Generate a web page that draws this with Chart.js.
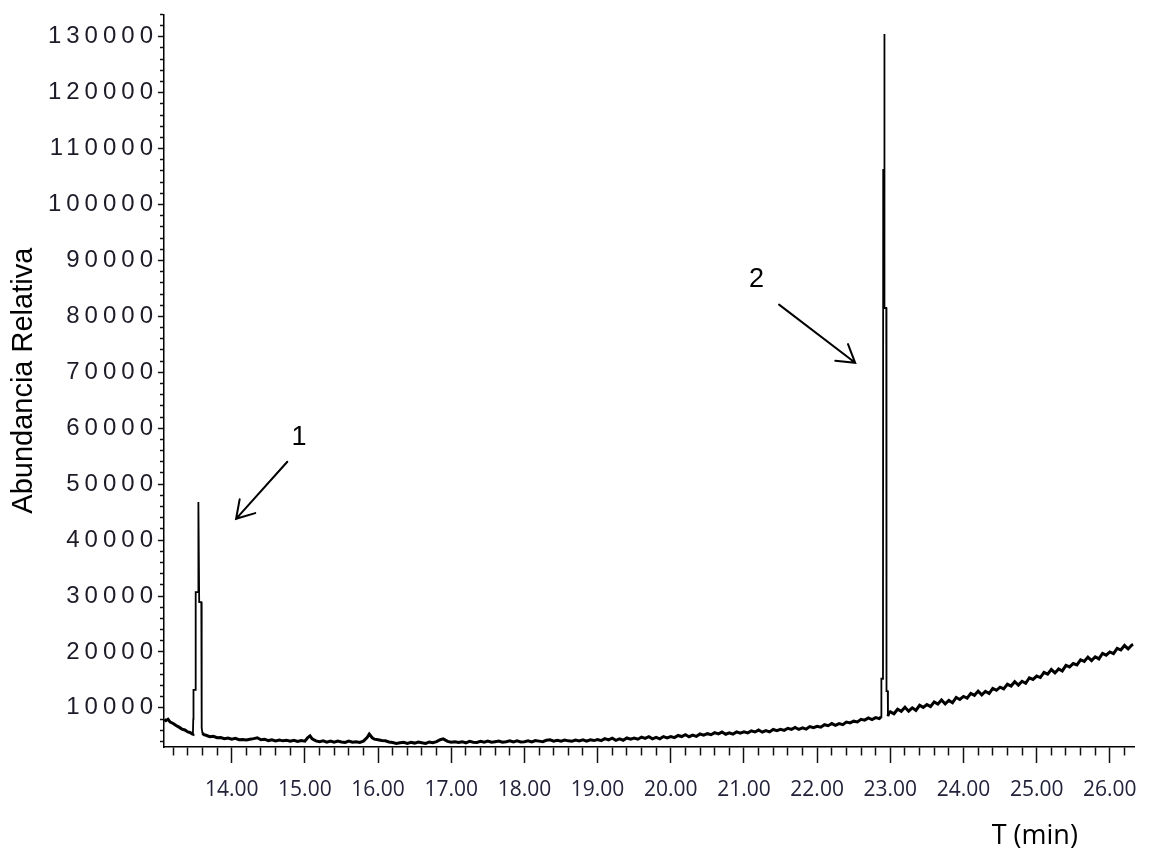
<!DOCTYPE html>
<html>
<head>
<meta charset="utf-8">
<script src="https://cdn.jsdelivr.net/npm/chart.js@4.4.1/dist/chart.umd.min.js"></script>
<style>
  html, body { margin: 0; padding: 0; background: #ffffff; }
  canvas { display: block; }
</style>
</head>
<body>
<canvas id="chart" width="1153" height="857"></canvas>
<script>
// ---- data (retention time in min, relative abundance) ----
const retentionTimes = [
  13.08, 13.10, 13.13, 13.16, 13.20, 13.24, 13.28, 13.32, 13.36, 13.40, 13.43, 13.46,
  13.470, 13.475, 13.478, 13.505, 13.508, 13.540, 13.545, 13.556, 13.585, 13.590,
  13.60, 13.62, 13.65, 13.70, 13.75, 13.80, 13.85, 13.90, 13.95,
  14.00, 14.05, 14.10, 14.15, 14.20, 14.25, 14.30, 14.35, 14.40, 14.45,
  14.50, 14.55, 14.60, 14.65, 14.70, 14.75, 14.80, 14.85, 14.90, 14.95,
  15.00, 15.04, 15.07, 15.10, 15.15, 15.20, 15.25, 15.30, 15.35, 15.40, 15.45,
  15.50, 15.55, 15.60, 15.65, 15.70, 15.75, 15.80, 15.85, 15.88, 15.92, 15.95,
  16.00, 16.05, 16.10, 16.15, 16.20, 16.25, 16.30, 16.35, 16.40, 16.45,
  16.50, 16.55, 16.60, 16.65, 16.70, 16.75, 16.80, 16.85, 16.89, 16.95,
  17.00, 17.05, 17.10, 17.15, 17.20, 17.25, 17.30, 17.35, 17.40, 17.45,
  17.50, 17.55, 17.60, 17.65, 17.70, 17.75, 17.80, 17.85, 17.90, 17.95,
  18.00, 18.05, 18.10, 18.15, 18.20, 18.25, 18.30, 18.35, 18.40, 18.45,
  18.50, 18.55, 18.60, 18.65, 18.70, 18.75, 18.80, 18.85, 18.90, 18.95,
  19.00, 19.05, 19.10, 19.15, 19.20, 19.25, 19.30, 19.35, 19.40, 19.45,
  19.50, 19.55, 19.60, 19.65, 19.70, 19.75, 19.80, 19.85, 19.90, 19.95,
  20.00, 20.05, 20.10, 20.15, 20.20, 20.25, 20.30, 20.35, 20.40, 20.45,
  20.50, 20.55, 20.60, 20.65, 20.70, 20.75, 20.80, 20.85, 20.90, 20.95,
  21.00, 21.05, 21.10, 21.15, 21.20, 21.25, 21.30, 21.35, 21.40, 21.45,
  21.50, 21.55, 21.60, 21.65, 21.70, 21.75, 21.80, 21.85, 21.90, 21.95,
  22.00, 22.05, 22.10, 22.15, 22.20, 22.25, 22.30, 22.35, 22.40, 22.45,
  22.50, 22.55, 22.60, 22.65, 22.70, 22.75, 22.80, 22.85, 22.875,
  22.878, 22.900, 22.903, 22.915, 22.918, 22.922, 22.945, 22.948, 22.965, 22.968, 22.98,
  23.00, 23.05, 23.10, 23.15, 23.20, 23.25, 23.30, 23.35, 23.40, 23.45,
  23.50, 23.55, 23.60, 23.65, 23.70, 23.75, 23.80, 23.85, 23.90, 23.95,
  24.00, 24.05, 24.10, 24.15, 24.20, 24.25, 24.30, 24.35, 24.40, 24.45,
  24.50, 24.55, 24.60, 24.65, 24.70, 24.75, 24.80, 24.85, 24.90, 24.95,
  25.00, 25.05, 25.10, 25.15, 25.20, 25.25, 25.30, 25.35, 25.40, 25.45,
  25.50, 25.55, 25.60, 25.65, 25.70, 25.75, 25.80, 25.85, 25.90, 25.95,
  26.00, 26.05, 26.10, 26.15, 26.20, 26.25, 26.30, 26.32
];
const abundance = [
  7950, 7700, 7950, 7450, 7200, 6850, 6550, 6200, 6050, 5700, 5600, 5350,
  5300, 8000, 13200, 13200, 30700, 30700, 46800, 28900, 28900, 6400,
  5500, 5200, 5100, 4850, 4900, 4650, 4700, 4500, 4600,
  4400, 4550, 4300, 4350, 4250, 4400, 4500, 4650, 4300, 4400,
  4150, 4300, 4100, 4250, 4100, 4200, 4050, 4200, 4000, 4150,
  4050, 4700, 5000, 4450, 4100, 3950, 4100, 3850, 4050, 3850, 4050,
  3900, 3800, 4050, 3850, 3950, 3800, 4050, 4700, 5300, 4650, 4400,
  4300, 4150, 4100, 3900, 3800, 3650, 3750, 3850, 3650, 3850,
  3700, 3900, 3750, 3650, 3900, 3750, 3950, 4300, 4450, 4000,
  3850, 3950, 3800, 3950, 3750, 4000, 3850, 3800, 4000, 3850,
  4050, 3850, 3950, 4050, 3850, 3950, 4100, 3900, 4100, 3900,
  3950, 4100, 3900, 4150, 4050, 3950, 4200, 4300, 4050, 4200,
  4050, 4250, 4100, 4050, 4250, 4100, 4300, 4050, 4300, 4150,
  4350, 4140, 4500, 4280, 4590, 4200, 4460, 4210, 4610, 4380,
  4610, 4390, 4760, 4530, 4850, 4450, 4720, 4460, 4870, 4630,
  4860, 4670, 5060, 4870, 5210, 4840, 5130, 4900, 5330, 5130,
  5380, 5190, 5570, 5350, 5670, 5280, 5550, 5300, 5700, 5470,
  5700, 5510, 5890, 5690, 6030, 5650, 5940, 5700, 6130, 5910,
  6160, 5970, 6350, 6150, 6500, 6140, 6430, 6210, 6650, 6440,
  6700, 6550, 6980, 6810, 7190, 6860, 7190, 6990, 7460, 7310,
  7620, 7490, 7940, 7810, 8210, 7900, 8250, 8080, 8400,
  15200, 15200, 106200, 106200, 130500, 81500, 81500, 13000, 13000, 8500, 9100,
  9290, 8940, 9760, 9390, 10100, 9400, 10010, 9560, 10460, 10080,
  10590, 10240, 11060, 10690, 11400, 10700, 11330, 10910, 11850, 11500,
  12040, 11730, 12580, 12240, 12990, 12320, 12960, 12550, 13490, 13140,
  13690, 13380, 14230, 13900, 14670, 14060, 14750, 14390, 15380, 15090,
  15680, 15420, 16330, 16040, 16850, 16250, 16960, 16600, 17600, 17320,
  17930, 17680, 18600, 18300, 19080, 18450, 19130, 18750, 19720, 19410,
  19990, 19710, 20620, 20340, 21140, 20530, 21230, 21300
];

// axis ticks and labels
const xTickValues = [14, 15, 16, 17, 18, 19, 20, 21, 22, 23, 24, 25, 26];
const xTickLabels = ['14.00', '15.00', '16.00', '17.00', '18.00', '19.00', '20.00',
                     '21.00', '22.00', '23.00', '24.00', '25.00', '26.00'];
const yTickValues = [10000, 20000, 30000, 40000, 50000, 60000, 70000, 80000,
                     90000, 100000, 110000, 120000, 130000];
const yTickLabels = ['10000', '20000', '30000', '40000', '50000', '60000', '70000',
                     '80000', '90000', '100000', '110000', '120000', '130000'];
const xMinorPerUnit = 5;      // minor ticks every 0.2 min
const yMinorStep = 2000;      // minor ticks every 2000

// retention-time windows of the two peaks (drawn with a thinner pen)
const peakWindows = [[13.47, 13.60], [22.875, 22.97]];

// peak annotations (data units: minutes, abundance)
const peakNames = ['1', '2'];
const peakNameAt = [[14.92, 58300], [21.17, 86600]];
const arrowTail = [[14.76, 54000], [21.48, 82100]];
const arrowHead = [[14.06, 43800], [22.52, 71700]];

// ---- helpers ----
function majorIndex(values, v, tol) {
  for (let i = 0; i < values.length; i++) {
    if (Math.abs(values[i] - v) < tol) return i;
  }
  return -1;
}
function inPeak(x0, x1) {
  return peakWindows.some(w => x0 >= w[0] - 1e-9 && x1 <= w[1] + 1e-9);
}

const points = retentionTimes.map((t, i) => ({ x: t, y: abundance[i] }));

// wide letter spacing for the y-axis tick labels only
const yTickSpacingPlugin = {
  id: 'yTickSpacing',
  afterUpdate(chart) {
    const s = chart.scales.y;
    if (s && !s._spacedPatch) {
      const orig = s.drawLabels;
      s.drawLabels = function (area) {
        const ctx = this.ctx;
        ctx.save();
        if ('letterSpacing' in ctx) ctx.letterSpacing = '5px';
        orig.call(this, area);
        ctx.restore();
      };
      s._spacedPatch = true;
    }
  }
};

const arrowPlugin = {
  id: 'peakArrows',
  afterDraw(chart) {
    const ctx = chart.ctx;
    const xs = chart.scales.x, ys = chart.scales.y;
    ctx.save();
    ctx.strokeStyle = '#000';
    ctx.fillStyle = '#000';
    ctx.lineWidth = 2;
    ctx.lineCap = 'round';
    ctx.font = "27px 'Liberation Sans', Arial, sans-serif";
    ctx.textAlign = 'center';
    ctx.textBaseline = 'middle';
    peakNames.forEach((name, i) => {
      const fx = xs.getPixelForValue(arrowTail[i][0]);
      const fy = ys.getPixelForValue(arrowTail[i][1]);
      const tx = xs.getPixelForValue(arrowHead[i][0]);
      const ty = ys.getPixelForValue(arrowHead[i][1]);
      const ang = Math.atan2(ty - fy, tx - fx);
      const hl = 20, ha = 0.55;
      ctx.beginPath();
      ctx.moveTo(fx, fy);
      ctx.lineTo(tx, ty);
      ctx.moveTo(tx - hl * Math.cos(ang - ha), ty - hl * Math.sin(ang - ha));
      ctx.lineTo(tx, ty);
      ctx.lineTo(tx - hl * Math.cos(ang + ha), ty - hl * Math.sin(ang + ha));
      ctx.stroke();
      ctx.fillText(name, xs.getPixelForValue(peakNameAt[i][0]), ys.getPixelForValue(peakNameAt[i][1]));
    });
    ctx.restore();
  }
};

new Chart(document.getElementById('chart'), {
  type: 'line',
  data: {
    datasets: [{
      data: points,
      borderColor: '#000000',
      borderWidth: 3,
      borderJoinStyle: 'miter',
      pointRadius: 0,
      tension: 0,
      fill: false,
      segment: {
        borderWidth: (c) => inPeak(c.p0.parsed.x, c.p1.parsed.x) ? 1.8 : 3
      }
    }]
  },
  plugins: [yTickSpacingPlugin, arrowPlugin],
  options: {
    responsive: false,
    animation: false,
    devicePixelRatio: 1,
    layout: { padding: { top: 12, right: 19, bottom: 0, left: 0 } },
    plugins: { legend: { display: false }, tooltip: { enabled: false } },
    scales: {
      x: {
        type: 'linear',
        position: 'bottom',
        min: 13.075,
        max: 26.33,
        afterBuildTicks(scale) {
          const t = [];
          for (let k = Math.ceil(scale.min * xMinorPerUnit); k <= Math.floor(scale.max * xMinorPerUnit); k++) {
            t.push({ value: k / xMinorPerUnit });
          }
          scale.ticks = t;
        },
        afterFit(scale) { scale.height = 110; },
        border: { display: true, color: '#000', width: 1.5 },
        grid: {
          display: true,
          drawOnChartArea: false,
          drawTicks: true,
          tickLength: 16,
          tickWidth: 1.5,
          tickColor: '#111',
          tickBorderDash: (c) => (c.tick && majorIndex(xTickValues, c.tick.value, 1e-6) >= 0) ? [] : [8, 100]
        },
        ticks: {
          autoSkip: false,
          maxRotation: 0,
          minRotation: 0,
          padding: 14,
          color: '#22223a',
          font: { family: "'Open Sans', 'DejaVu Sans', sans-serif", size: 21 },
          callback: (v) => {
            const k = majorIndex(xTickValues, v, 1e-6);
            return k >= 0 ? xTickLabels[k] : '';
          }
        },
        title: {
          display: true,
          text: 'T (min)        ',
          align: 'end',
          color: '#000',
          font: { family: "'Open Sans', 'DejaVu Sans', sans-serif", size: 27 },
          padding: { top: 0, bottom: 4 }
        }
      },
      y: {
        type: 'linear',
        position: 'left',
        min: 3000,
        max: 134000,
        afterBuildTicks(scale) {
          const t = [];
          for (let v = Math.ceil(scale.min / yMinorStep) * yMinorStep; v <= scale.max; v += yMinorStep) {
            t.push({ value: v });
          }
          scale.ticks = t;
        },
        afterFit(scale) { scale.width = 164; },
        border: { display: true, color: '#000', width: 1.5 },
        grid: {
          display: true,
          drawOnChartArea: false,
          drawTicks: true,
          tickLength: 6,
          tickWidth: 1.5,
          tickColor: '#111',
          tickBorderDash: (c) => (c.tick && majorIndex(yTickValues, c.tick.value, 1) >= 0) ? [] : [0, 2, 10]
        },
        ticks: {
          autoSkip: false,
          padding: 0,
          color: '#1c1c28',
          font: { family: "'Liberation Sans', Arial, sans-serif", size: 24 },
          callback: (v) => {
            const k = majorIndex(yTickValues, v, 1);
            return k >= 0 ? yTickLabels[k] : '';
          }
        },
        title: {
          display: true,
          text: 'Abundancia Relativa',
          color: '#000',
          font: { family: "'Liberation Sans', Arial, sans-serif", size: 29 },
          padding: { top: 7, bottom: 0 }
        }
      }
    }
  }
});
</script>
</body>
</html>
